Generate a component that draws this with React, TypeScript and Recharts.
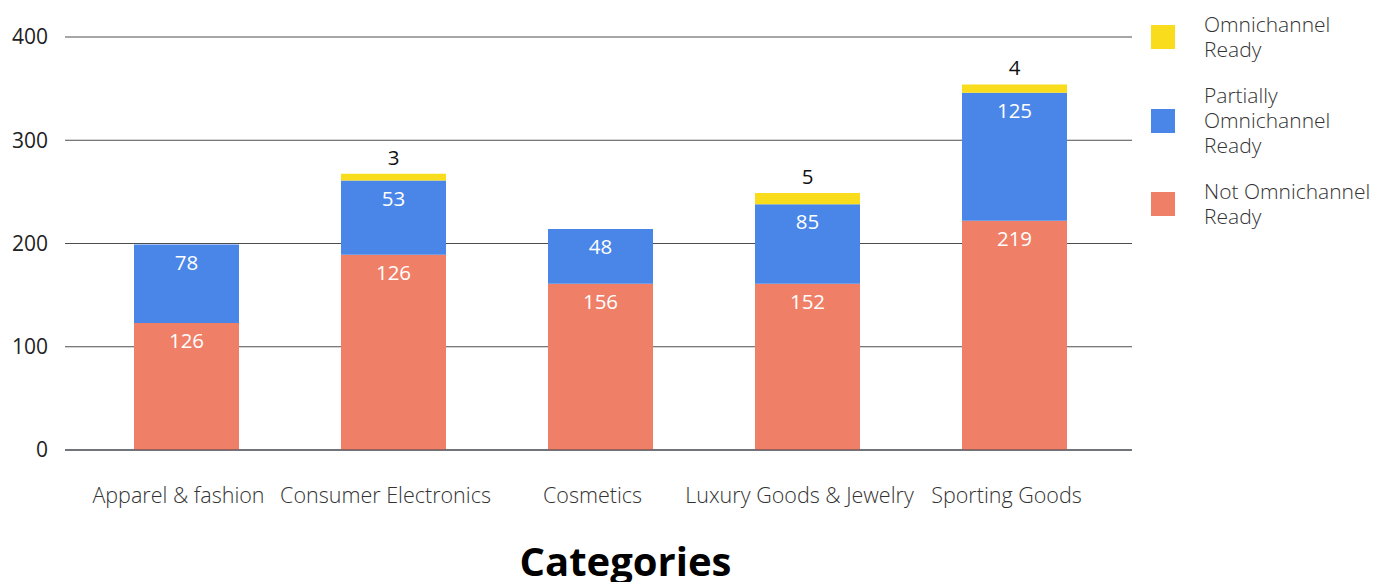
import React from 'react';
import { BarChart, Bar, XAxis, YAxis, CartesianGrid, LabelList } from 'recharts';

const categories = ['Apparel & fashion', 'Consumer Electronics', 'Cosmetics', 'Luxury Goods & Jewelry', 'Sporting Goods'];
// bar heights as drawn in the picture
const notReady = [123, 189, 161, 161, 222];
const partiallyReady = [76, 72, 53, 77, 124];
const omniReady = [0, 6.5, 0, 11, 8];
// data labels as printed in the picture
const notReadyLabels = ['126', '126', '156', '152', '219'];
const partiallyLabels = ['78', '53', '48', '85', '125'];
const omniLabels = ['', '3', '', '5', '4'];
const yTicks = [0, 100, 200, 300, 400];

const legendItems = [
  { name: 'Omnichannel Ready', lines: ['Omnichannel', 'Ready'], color: '#F9DD1C' },
  { name: 'Partially Omnichannel Ready', lines: ['Partially', 'Omnichannel', 'Ready'], color: '#4A86E8' },
  { name: 'Not Omnichannel Ready', lines: ['Not Omnichannel', 'Ready'], color: '#F07F67' },
];

const FONT = '"Open Sans", sans-serif';

const data = categories.map((c, i) => ({
  category: c,
  notReady: notReady[i],
  partiallyReady: partiallyReady[i],
  omniReady: omniReady[i],
  notReadyLabel: notReadyLabels[i],
  partiallyLabel: partiallyLabels[i],
  omniLabel: omniLabels[i],
}));

const InsideLabel = (props: any) => {
  const { x, y, width, value } = props;
  if (!value) return null;
  return (
    <text x={x + width / 2} y={y + 25} textAnchor="middle" fill="#ffffff" fontSize={20.5} fontFamily={FONT} fontWeight={400}>
      {value}
    </text>
  );
};

const TopLabel = (props: any) => {
  const { x, y, width, value } = props;
  if (!value) return null;
  return (
    <text x={x + width / 2} y={y - 9} textAnchor="middle" fill="#111111" fontSize={20.5} fontFamily={FONT} fontWeight={400}>
      {value}
    </text>
  );
};

const TitleLabel = (props: any) => {
  const vb = props.viewBox || {};
  return (
    <text x={vb.x + vb.width / 2 + 27} y={576} textAnchor="middle" fill="#000" fontSize={40} fontWeight={700} fontFamily={FONT}>
      Categories
    </text>
  );
};

export default function App() {
  return (
    <div style={{ position: 'absolute', left: 0, top: 0, width: 1389, height: 582, background: '#fff' }}>
      <BarChart
        width={1389}
        height={582}
        data={data}
        margin={{ top: 37, right: 257, bottom: 72, left: 0 }}
        barCategoryGap={0}
      >
        <CartesianGrid horizontal={true} vertical={false} stroke="#3a3a3a" strokeOpacity={0.9} />
        <YAxis
          type="number"
          domain={[0, 400]}
          ticks={yTicks}
          width={65}
          axisLine={false}
          tickLine={false}
          tickSize={0}
          tickMargin={17}
          tick={{ fontSize: 21, fill: '#222', fontFamily: FONT }}
        />
        <XAxis
          dataKey="category"
          height={60}
          interval={0}
          padding={{ left: 18, right: 14 }}
          axisLine={{ stroke: '#3c4350' }}
          tickLine={false}
          tickSize={0}
          tickMargin={38}
          tick={{ fontSize: 21.5, fill: '#333', fontFamily: FONT, fontWeight: 300, dx: -8 }}
          label={{ content: TitleLabel }}
        />
        <Bar dataKey="notReady" stackId="a" fill="#F07F67" barSize={105} isAnimationActive={false}>
          <LabelList dataKey="notReadyLabel" content={InsideLabel} />
        </Bar>
        <Bar dataKey="partiallyReady" stackId="a" fill="#4A86E8" barSize={105} isAnimationActive={false}>
          <LabelList dataKey="partiallyLabel" content={InsideLabel} />
        </Bar>
        <Bar dataKey="omniReady" stackId="a" fill="#F9DD1C" barSize={105} isAnimationActive={false}>
          <LabelList dataKey="omniLabel" content={TopLabel} />
        </Bar>
      </BarChart>
      <div style={{ position: 'absolute', left: 1151, top: 12, display: 'flex', flexDirection: 'column', fontFamily: FONT }}>
        {legendItems.map((it, i) => (
          <div key={it.name} style={{ display: 'flex', alignItems: 'center', marginTop: i === 0 ? 0 : 21 }}>
            <div style={{ width: 24, height: 24, background: it.color, flex: 'none' }} />
            <div style={{ marginLeft: 29, fontSize: 21, lineHeight: '25px', color: '#333', fontWeight: 300 }}>
              {it.lines.map((l, j) => (
                <React.Fragment key={l}>
                  {j > 0 && <br />}
                  {l}
                </React.Fragment>
              ))}
            </div>
          </div>
        ))}
      </div>
    </div>
  );
}
